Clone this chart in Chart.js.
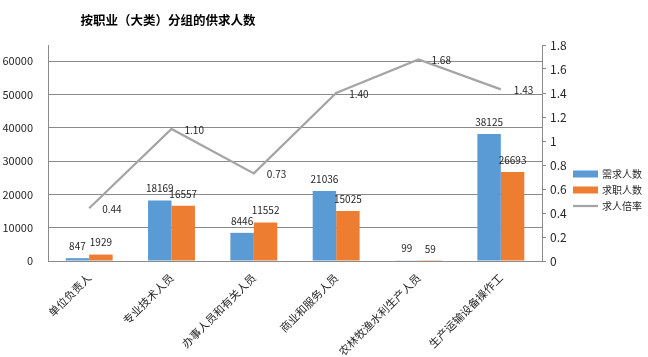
<!DOCTYPE html>
<html><head><meta charset="utf-8">
<script src="https://cdn.jsdelivr.net/npm/chart.js@4.4.1/dist/chart.umd.min.js"></script>
<style>html,body{margin:0;padding:0;background:#fff;} canvas{display:block;}</style>
</head><body>
<canvas id="c" width="648" height="357"></canvas>
<script>
const chartTitle = '按职业（大类）分组的供求人数';
const categories = ['单位负责人', '专业技术人员', '办事人员和有关人员', '商业和服务人员', '农林牧渔水利生产人员', '生产运输设备操作工'];
const demand = [847, 18169, 8446, 21036, 99, 38125];
const seekers = [1929, 16557, 11552, 15025, 59, 26693];
const ratio = [0.44, 1.10, 0.73, 1.40, 1.68, 1.43];
const seriesNames = ['需求人数', '求职人数', '求人倍率'];
const leftTicks = [0, 10000, 20000, 30000, 40000, 50000, 60000];
const rightTicks = [0, 0.2, 0.4, 0.6, 0.8, 1, 1.2, 1.4, 1.6, 1.8];
const seriesColors = ['#5b9bd5', '#ed7d31', '#a5a5a5'];

const FONT = '"Noto Sans CJK SC", "Noto Sans", sans-serif';
const GRID = '#8a8a8a';
const TEXT = '#262626';

const decorPlugin = {
  id: 'decor',
  beforeDraw(chart) {
    const ctx = chart.ctx;
    ctx.save();
    ctx.fillStyle = '#fff';
    ctx.fillRect(0, 0, chart.width, chart.height);
    ctx.restore();
  },
  afterDatasetsDraw(chart) {
    const ctx = chart.ctx;
    ctx.save();
    ctx.font = '10px ' + FONT;
    ctx.fillStyle = TEXT;
    chart.data.datasets.forEach((ds, i) => {
      const meta = chart.getDatasetMeta(i);
      meta.data.forEach((el, j) => {
        const v = ds.data[j];
        ctx.textBaseline = 'middle';
        if (ds.type === 'line') {
          ctx.textAlign = 'left';
          ctx.fillText(v.toFixed(2), el.x + 13, el.y + 1);
        } else {
          ctx.textAlign = 'center';
          ctx.fillText(String(v), el.x, el.y - 12);
        }
      });
    });
    ctx.restore();
  },
  afterDraw(chart) {
    const ctx = chart.ctx;
    ctx.save();
    ctx.font = 'bold 12.5px ' + FONT;
    ctx.fillStyle = '#000';
    ctx.textAlign = 'center';
    ctx.textBaseline = 'middle';
    ctx.fillText(chartTitle, 168, 20);
    ctx.font = '10px ' + FONT;
    ctx.textAlign = 'left';
    const lx = 573, ly0 = 174, gap = 16;
    chart.data.datasets.forEach((ds, i) => {
      const y = ly0 + i * gap;
      if (ds.type === 'line') {
        ctx.strokeStyle = ds.borderColor;
        ctx.lineWidth = 2.25;
        ctx.beginPath();
        ctx.moveTo(lx, y);
        ctx.lineTo(lx + 25, y);
        ctx.stroke();
      } else {
        ctx.fillStyle = ds.backgroundColor;
        ctx.fillRect(lx, y - 3.5, 25, 7);
      }
      ctx.fillStyle = TEXT;
      ctx.fillText(ds.label, lx + 29, y);
    });
    ctx.restore();
  }
};

new Chart(document.getElementById('c'), {
  data: {
    labels: categories,
    datasets: [
      { type: 'bar', label: seriesNames[0], data: demand, backgroundColor: seriesColors[0], yAxisID: 'y', order: 1,
        categoryPercentage: 0.57, barPercentage: 1.0 },
      { type: 'bar', label: seriesNames[1], data: seekers, backgroundColor: seriesColors[1], yAxisID: 'y', order: 1,
        categoryPercentage: 0.57, barPercentage: 1.0 },
      { type: 'line', label: seriesNames[2], data: ratio, borderColor: seriesColors[2], backgroundColor: seriesColors[2],
        borderWidth: 2.25, pointRadius: 0, tension: 0, yAxisID: 'y1', order: 0 }
    ]
  },
  options: {
    responsive: false,
    animation: false,
    devicePixelRatio: 1,
    layout: { padding: { top: 45, right: 76, bottom: 0, left: 0 } },
    plugins: { legend: { display: false }, title: { display: false }, tooltip: { enabled: false } },
    scales: {
      x: {
        grid: { display: false },
        border: { display: true, color: GRID, width: 1 },
        ticks: { maxRotation: 45, minRotation: 45, autoSkip: false, color: TEXT, font: { family: FONT, size: 11 }, padding: 2 },
        afterFit(s) { s.height = 96; }
      },
      y: {
        position: 'left', min: 0, max: 64800,
        grid: { color: GRID, drawTicks: false, lineWidth: 1 },
        border: { display: true, color: GRID, width: 1 },
        ticks: { color: TEXT, padding: 15, font: { family: FONT, size: 11 }, callback: v => String(v) },
        afterBuildTicks(s) { s.ticks = leftTicks.map(v => ({ value: v })); },
        afterFit(s) { s.width = 48; }
      },
      y1: {
        position: 'right', min: 0, max: 1.8,
        grid: { drawOnChartArea: false, drawTicks: true, tickLength: 4, color: GRID },
        border: { display: true, color: GRID, width: 1 },
        ticks: { color: TEXT, padding: 4, font: { family: FONT, size: 12 },
          callback: v => String(Number(Number(v).toFixed(1))) },
        afterBuildTicks(s) { s.ticks = rightTicks.map(v => ({ value: v })); },
        afterFit(s) { s.width = 30; }
      }
    }
  },
  plugins: [decorPlugin]
});
</script>
</body></html>
